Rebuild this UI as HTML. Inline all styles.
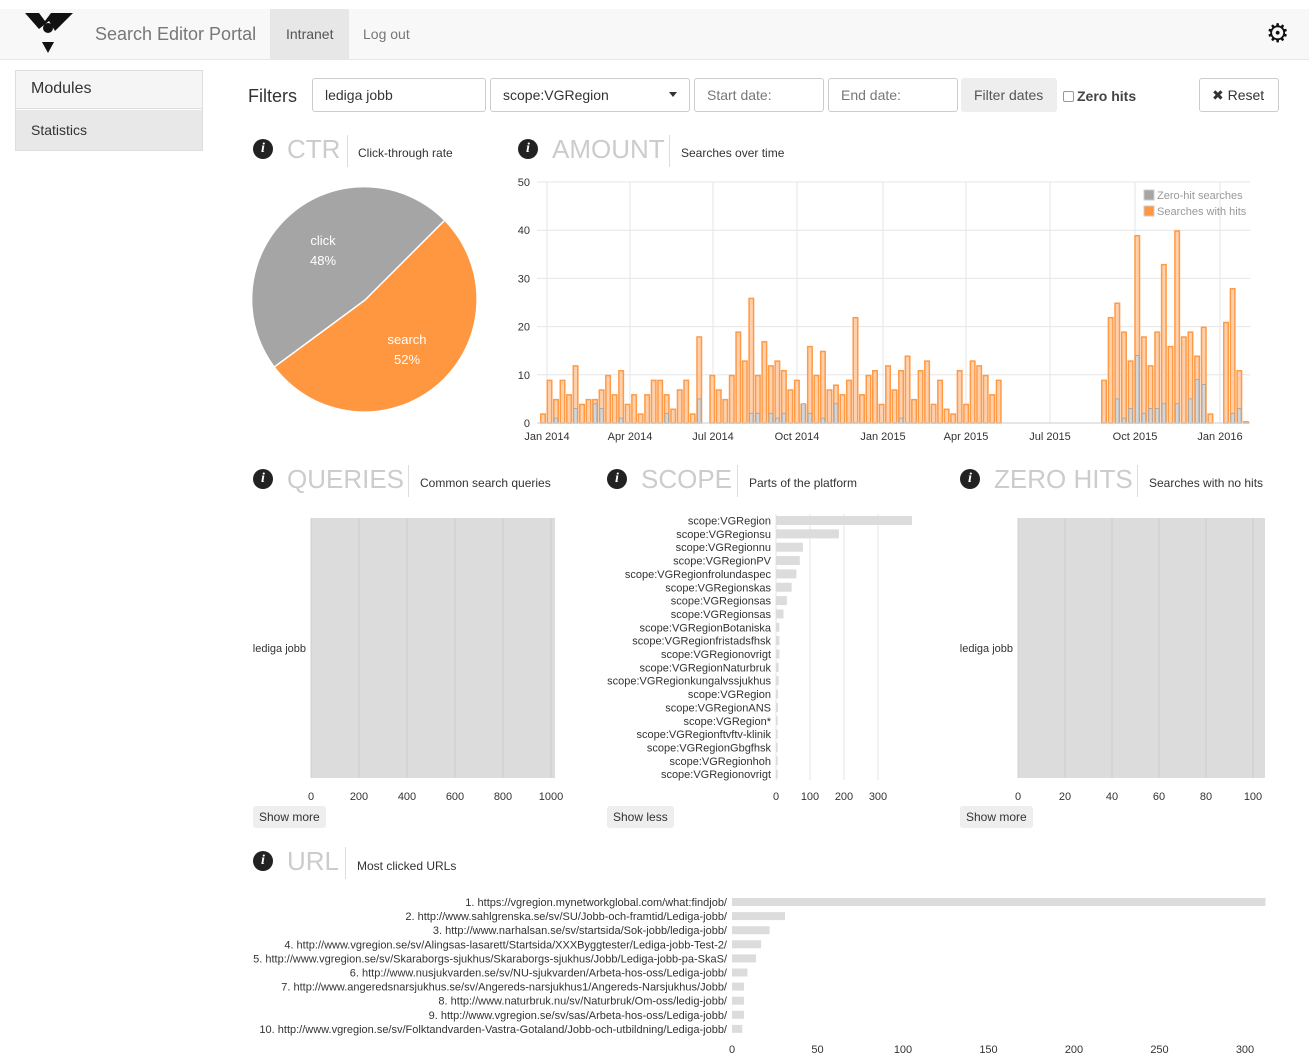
<!DOCTYPE html>
<html><head><meta charset="utf-8">
<style>
*{box-sizing:border-box}
body{margin:0;width:1309px;height:1062px;position:relative;background:#fff;font-family:"Liberation Sans",Arial,sans-serif;color:#333;overflow:hidden}
.a{position:absolute}
.inp{position:absolute;top:78px;height:34px;border:1px solid #ccc;border-radius:3px;font-size:14px;padding:8px 12px;color:#555}
.tt{position:absolute;font-size:26px;color:#ccc}
.sub{position:absolute;font-size:12px;color:#333}
.vl{position:absolute;width:1px;height:32px;background:#ddd}
.ic{position:absolute;width:20px;height:20px;border-radius:50%;background:#222;color:#fff;font:bold italic 14px "Liberation Serif",serif;text-align:center;line-height:20px}
.btn{position:absolute;background:#eee;border-radius:3px;font-size:12px;padding:4px 6px;color:#333}
</style></head><body>
<div class="a" style="left:0;top:9px;width:1309px;height:51px;background:#f8f8f8;border-bottom:1px solid #e7e7e7"></div>
<svg class="a" style="left:25px;top:13px" width="48" height="42"><polygon points="0,0 14,0 20,8 26,0 48,0 30,18 24,8 14,16" fill="#111"/><circle cx="23" cy="15" r="5" fill="#111"/><polygon points="17,29 29,29 23,40" fill="#111"/></svg>
<div class="a" style="left:95px;top:24px;font-size:18px;color:#777">Search Editor Portal</div>
<div class="a" style="left:270px;top:9px;width:79px;height:50px;background:#e7e7e7"></div>
<div class="a" style="left:286px;top:26px;font-size:14px;color:#555">Intranet</div>
<div class="a" style="left:363px;top:26px;font-size:14px;color:#777">Log out</div>
<div class="a" style="left:1266px;top:20px;font-size:26px;line-height:26px;color:#111">⚙</div>
<div class="a" style="left:15px;top:70px;width:188px;height:81px;border:1px solid #ddd"></div>
<div class="a" style="left:16px;top:71px;width:186px;height:38px;background:#f5f5f5;border-bottom:1px solid #ddd"></div>
<div class="a" style="left:31px;top:80px;font-size:16px">Modules</div>
<div class="a" style="left:16px;top:110px;width:186px;height:40px;background:#e8e8e8"></div>
<div class="a" style="left:31px;top:122px;font-size:14px">Statistics</div>
<div class="a" style="left:248px;top:86px;font-size:18px">Filters</div>
<div class="inp" style="left:312px;width:174px;color:#333">lediga jobb</div>
<div class="inp" style="left:490px;width:200px;color:#333">scope:VGRegion<span style="position:absolute;right:12px;top:13px;border:4px solid transparent;border-top:5px solid #333"></span></div>
<div class="inp" style="left:694px;width:130px;color:#777">Start date:</div>
<div class="inp" style="left:828px;width:130px;color:#777">End date:</div>
<div class="a" style="left:961px;top:78px;width:96px;height:34px;background:#eee;border-radius:3px;font-size:14px;padding:9px 13px;color:#555">Filter dates</div>
<div class="a" style="left:1063px;top:91px;width:11px;height:11px;border:1px solid #999;border-radius:2px"></div>
<div class="a" style="left:1077px;top:88px;font-size:14px;font-weight:bold;color:#444">Zero hits</div>
<div class="a" style="left:1199px;top:78px;width:80px;height:34px;border:1px solid #ccc;border-radius:3px;font-size:14px;padding:8px 12px">✖ Reset</div>

<div class="ic" style="left:253px;top:139px">i</div><div class="tt" style="left:287px;top:134px">CTR</div><div class="vl" style="left:347px;top:135px"></div><div class="sub" style="left:358px;top:146px">Click-through rate</div>
<div class="ic" style="left:518px;top:139px">i</div><div class="tt" style="left:552px;top:134px">AMOUNT</div><div class="vl" style="left:669px;top:135px"></div><div class="sub" style="left:681px;top:146px">Searches over time</div>
<div class="ic" style="left:253px;top:469px">i</div><div class="tt" style="left:287px;top:464px">QUERIES</div><div class="vl" style="left:408px;top:465px"></div><div class="sub" style="left:420px;top:476px">Common search queries</div>
<div class="ic" style="left:607px;top:469px">i</div><div class="tt" style="left:641px;top:464px">SCOPE</div><div class="vl" style="left:737px;top:465px"></div><div class="sub" style="left:749px;top:476px">Parts of the platform</div>
<div class="ic" style="left:960px;top:469px">i</div><div class="tt" style="left:994px;top:464px">ZERO HITS</div><div class="vl" style="left:1137px;top:465px"></div><div class="sub" style="left:1149px;top:476px">Searches with no hits</div>
<div class="ic" style="left:253px;top:851px">i</div><div class="tt" style="left:287px;top:846px">URL</div><div class="vl" style="left:345px;top:847px"></div><div class="sub" style="left:357px;top:859px">Most clicked URLs</div>
<div class="btn" style="left:253px;top:806px">Show more</div>
<div class="btn" style="left:607px;top:806px">Show less</div>
<div class="btn" style="left:960px;top:806px">Show more</div>

<svg id="s" class="a" style="left:0;top:0" width="1309" height="1062" font-family="Liberation Sans, Arial, sans-serif" font-size="11" fill="#333">
<path d="M365,300 L444.2,220.8 A112,112 0 0 0 274.8,366.6 Z" fill="#a5a5a5"/>
<path d="M365,300 L274.8,366.6 A112,112 0 1 0 444.2,220.8 Z" fill="#ff9640"/>
<path d="M444.2,220.8 L365,300 L274.8,366.6" stroke="#fff" stroke-width="1.5" fill="none"/>
<text x="323" y="245" fill="#fff" font-size="13" text-anchor="middle">click</text><text x="323" y="265" fill="#fff" font-size="13" text-anchor="middle">48%</text>
<text x="407" y="344" fill="#fff" font-size="13" text-anchor="middle">search</text><text x="407" y="364" fill="#fff" font-size="13" text-anchor="middle">52%</text>
<g id="amt"></g>
<rect x="311" y="518" width="244" height="260" fill="#dcdcdc"/>
<rect x="1018" y="518" width="247" height="260" fill="#dcdcdc"/>
<g id="low"></g>
</svg>
<script>
var g=document.getElementById('amt'),h='';
var y0=423,k=4.82;
for(var v=0;v<=50;v+=10){var y=y0-v*k;h+='<line x1="537" x2="1250" y1="'+y+'" y2="'+y+'" stroke="#e6e6e6"/><text x="530" y="'+(y+4)+'" text-anchor="end">'+v+'</text>';}
var tl=[[547,'Jan 2014'],[630,'Apr 2014'],[713,'Jul 2014'],[797,'Oct 2014'],[883,'Jan 2015'],[966,'Apr 2015'],[1050,'Jul 2015'],[1135,'Oct 2015'],[1220,'Jan 2016']];
tl.forEach(function(t){h+='<line x1="'+t[0]+'" x2="'+t[0]+'" y1="182" y2="423" stroke="#e6e6e6"/><text x="'+t[0]+'" y="440" text-anchor="middle">'+t[1]+'</text>';});
var A=[2,9,5,9,6,12,4,5,5,7,10,6,11,4,6,2,6,9,9,6,3,7,9,2,18,0,10,7,5,10,19,13,26,10,17,12,13,11,7,9,4,16,10,15,7,8,6,9,22,6,10,11,4,12,7,11,14,5,11,13,4,9,3,2,11,4,13,12,10,6,9];
var Z={2:1,5:3,8:4,9:3,12:1,19:2,24:5,32:2,33:2,35:2,36:1,37:2,40:4,41:2,43:1,45:4,55:1};
function bar(x,v,z){var s='';if(v>0){s+='<rect x="'+(x+0.75)+'" y="'+(y0-v*k+0.75)+'" width="4.5" height="'+(v*k-0.75)+'" fill="#ffd0ad" stroke="#ff9a45" stroke-width="1.5"/>';}
if(z){s+='<rect x="'+(x+1.2)+'" y="'+(y0-z*k)+'" width="3.6" height="'+(z*k)+'" fill="#d6d6d6" stroke="#aaa" stroke-width="1"/>';}return s;}
A.forEach(function(v,i){h+=bar(540+i*6.51,v,Z[i]);});
var B=[[9,0],[22,0],[25,5],[19,1],[13,3],[39,14],[18,2],[12,3],[19,3],[33,4],[16,0],[40,4],[18,0],[19,5],[14,9],[20,8],[2,0]];
B.forEach(function(b,i){h+=bar(1101+i*6.65,b[0],b[1]);});
[[21,0],[28,2],[11,3],[0.4,0]].forEach(function(b,i){h+=bar(1223+i*6.65,b[0],b[1]);});
h+='<line x1="537" x2="1250" y1="423" y2="423" stroke="#ccc"/>';
h+='<rect x="1144" y="190" width="10" height="10" fill="#a5a5a5" stroke="#ccc"/><text x="1157" y="199" fill="#999">Zero-hit searches</text><rect x="1144" y="206" width="10" height="10" fill="#ff9640" stroke="#ccc"/><text x="1157" y="215" fill="#999">Searches with hits</text>';
g.innerHTML=h;
var L='';
[[311,[0,200,400,600,800,1000],0.24],[1018,[0,20,40,60,80,100],2.35]].forEach(function(c){c[1].forEach(function(v){var x=c[0]+v*c[2];L+='<line x1="'+x+'" x2="'+x+'" y1="518" y2="778" stroke="#c8c8c8" stroke-width="0.8"/><text x="'+x+'" y="800" text-anchor="middle">'+v+'</text>';});});
L+='<text x="306" y="652" text-anchor="end">lediga jobb</text><text x="1013" y="652" text-anchor="end">lediga jobb</text>';
var S=[['scope:VGRegion',400],['scope:VGRegionsu',185],['scope:VGRegionnu',79],['scope:VGRegionPV',70],['scope:VGRegionfrolundaspec',60],['scope:VGRegionskas',46],['scope:VGRegionsas',32],['scope:VGRegionsas',22],['scope:VGRegionBotaniska',10],['scope:VGRegionfristadsfhsk',10],['scope:VGRegionovrigt',10],['scope:VGRegionNaturbruk',8],['scope:VGRegionkungalvssjukhus',8],['scope:VGRegion',6],['scope:VGRegionANS',6],['scope:VGRegion*',5],['scope:VGRegionftvftv-klinik',5],['scope:VGRegionGbgfhsk',5],['scope:VGRegionhoh',5],['scope:VGRegionovrigt',5]];
[0,100,200,300].forEach(function(v){var x=776+v*0.34;L+='<line x1="'+x+'" x2="'+x+'" y1="514" y2="780" stroke="#e6e6e6"/><text x="'+x+'" y="800" text-anchor="middle">'+v+'</text>';});
S.forEach(function(s,i){var y=516+i*13.35;L+='<rect x="776" y="'+y+'" width="'+(s[1]*0.34)+'" height="9" fill="#dcdcdc"/><text x="771" y="'+(y+8.5)+'" text-anchor="end">'+s[0]+'</text>';});
var U=[['1. https://vgregion.mynetworkglobal.com/what:findjob/',312],['2. http://www.sahlgrenska.se/sv/SU/Jobb-och-framtid/Lediga-jobb/',31],['3. http://www.narhalsan.se/sv/startsida/Sok-jobb/lediga-jobb/',22],['4. http://www.vgregion.se/sv/Alingsas-lasarett/Startsida/XXXByggtester/Lediga-jobb-Test-2/',17],['5. http://www.vgregion.se/sv/Skaraborgs-sjukhus/Skaraborgs-sjukhus/Jobb/Lediga-jobb-pa-SkaS/',14],['6. http://www.nusjukvarden.se/sv/NU-sjukvarden/Arbeta-hos-oss/Lediga-jobb/',9],['7. http://www.angeredsnarsjukhus.se/sv/Angereds-narsjukhus1/Angereds-Narsjukhus/Jobb/',7],['8. http://www.naturbruk.nu/sv/Naturbruk/Om-oss/ledig-jobb/',7],['9. http://www.vgregion.se/sv/sas/Arbeta-hos-oss/Lediga-jobb/',7],['10. http://www.vgregion.se/sv/Folktandvarden-Vastra-Gotaland/Jobb-och-utbildning/Lediga-jobb/',6]];
[0,50,100,150,200,250,300].forEach(function(v){var x=732+v*1.71;L+='<text x="'+x+'" y="1053" text-anchor="middle">'+v+'</text>';});
U.forEach(function(u,i){var y=898+i*14.1;L+='<rect x="732" y="'+y+'" width="'+(u[1]*1.71)+'" height="8" fill="#dcdcdc"/><text x="727" y="'+(y+8)+'" text-anchor="end">'+u[0]+'</text>';});
document.getElementById('low').innerHTML=L;
</script>
</body></html>
